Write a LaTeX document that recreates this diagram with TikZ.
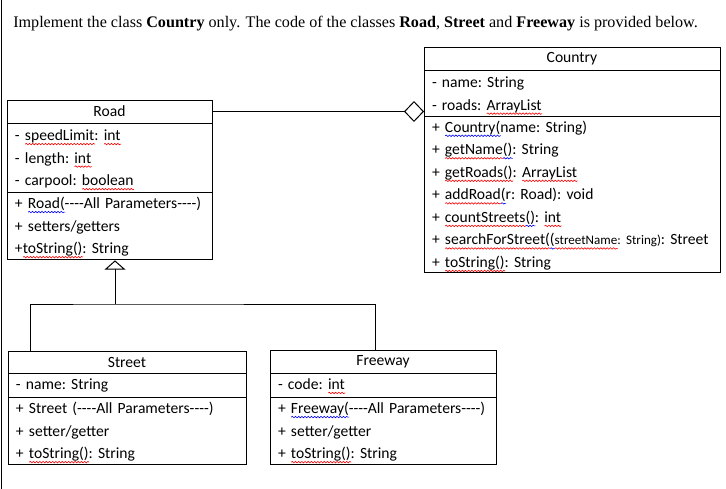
\documentclass[tikz,border=0pt]{standalone}
\usepackage{fontspec}
\setmainfont{Liberation Serif}
\newfontfamily\calibri{Carlito}[Ligatures=TeXOff]
\usetikzlibrary{arrows.meta, positioning, decorations.pathmorphing}
\newlength\wavelen
\newcommand\wavy[2]{\settowidth\wavelen{#2}\rlap{\tikz[baseline=0pt]\draw[#1, line width=0.45pt, line cap=round, decorate, decoration={snake, amplitude=0.55pt, segment length=2.4pt}] (0pt,-2.6pt) -- (\wavelen,-2.6pt);}#2}
\newcommand\rw[1]{\wavy{red}{#1}}
\newcommand\bw[1]{\wavy{blue}{#1}}
\tikzset{
  clshead/.style={draw, line width=0.75pt, outer sep=0pt, inner xsep=6pt, inner ysep=0pt, align=center, font=\calibri\fontsize{11.7pt}{16.9pt}\selectfont\frenchspacing},
  clsbody/.style={clshead, align=left, execute at begin node=\strut},
  aggline/.style={line width=0.75pt, -{Diamond[open, fill=white, length=15pt, width=15.75pt]}},
  genline/.style={line width=0.75pt, -{Triangle[open, fill=white, length=7pt, width=15.75pt]}},
  busline/.style={line width=0.75pt}
}

\begin{document}
\begin{tikzpicture}[x=0.75pt, y=-0.75pt]
  \useasboundingbox (0,0) rectangle (726,489);
  \draw[line width=0.75pt] (1,0) -- (1,489);

  \node[anchor=base west, inner sep=0pt, font=\fontsize{12.1pt}{14pt}\selectfont] (task) at (13,27)
    {Implement the class \textbf{Country} only. The code of the classes \textbf{Road}, \textbf{Street} and \textbf{Freeway} is provided below.};

  % Country
  \node[clshead, anchor=north west, text width=210pt, minimum height=17.25pt] (ctyT) at (424,47) {Country};
  \node[clsbody, below=0pt of ctyT, text width=210pt, minimum height=34.9pt] (ctyA)
    {- name: String\\- roads: \rw{ArrayList}};
  \node[clsbody, below=0pt of ctyA, text width=210pt, minimum height=116.6pt] (ctyM)
    {+ \bw{Country(}name: String)\\
     + \rw{getName}\bw{()}: String\\
     + \rw{getRoads()}: \rw{ArrayList}\\
     + \rw{addRoad}\bw{(}r: Road): void\\
     + \rw{countStreets}\bw{()}: \rw{int}\\
     \mbox{+ \rw{searchForStreet(}\bw{(}{\fontsize{9.8pt}{12pt}\selectfont\rw{streetName}: String)}: Street}\\
     + \rw{toString()}: String};

  % Road
  \node[clshead, anchor=north west, text width=141.75pt, minimum height=17.25pt] (roadT) at (7,100) {Road};
  \node[clsbody, below=0pt of roadT, text width=141.75pt, minimum height=51.75pt] (roadA)
    {- \rw{speedLimit}: \rw{int}\\- length: \rw{int}\\- carpool: \rw{boolean}};
  \node[clsbody, below=0pt of roadA, text width=141.75pt, minimum height=50.25pt] (roadM)
    {+ \bw{Road(}----All Parameters----)\\+ setters/getters\\+\rw{toString()}: String};

  % Street
  \node[clshead, anchor=north west, text width=166.5pt, minimum height=16.5pt] (stT) at (8,351) {Street};
  \node[clsbody, below=0pt of stT, text width=166.5pt, minimum height=18pt] (stA)
    {- name: String};
  \node[clsbody, below=0pt of stA, text width=166.5pt, minimum height=50.25pt] (stM)
    {+ Street (----All Parameters----)\\+ setter/getter\\+ \rw{toString()}: String};

  % Freeway
  \node[clshead, anchor=north west, text width=157.5pt, minimum height=17.25pt] (fwT) at (270,350) {Freeway};
  \node[clsbody, below=0pt of fwT, text width=157.5pt, minimum height=18pt] (fwA)
    {- code: \rw{int}};
  \node[clsbody, below=0pt of fwA, text width=157.5pt, minimum height=50.25pt] (fwM)
    {+ \bw{Freeway(}----All Parameters----)\\+ setter/getter\\+ \rw{toString()}: String};

  % links
  \draw[aggline] (roadT.east) -- (roadT.east -| ctyA.west);
  \coordinate (stTop) at ([xshift=16.5pt]stT.north west);
  \coordinate (fwTop) at ([xshift=78.75pt]fwT.north west);
  \coordinate (bus) at (115,304);
  \draw[busline] (stTop) |- (bus) -| (fwTop);
  \draw[genline, shorten >=1pt] (bus) -- (bus |- roadM.south);
\end{tikzpicture}
\end{document}
